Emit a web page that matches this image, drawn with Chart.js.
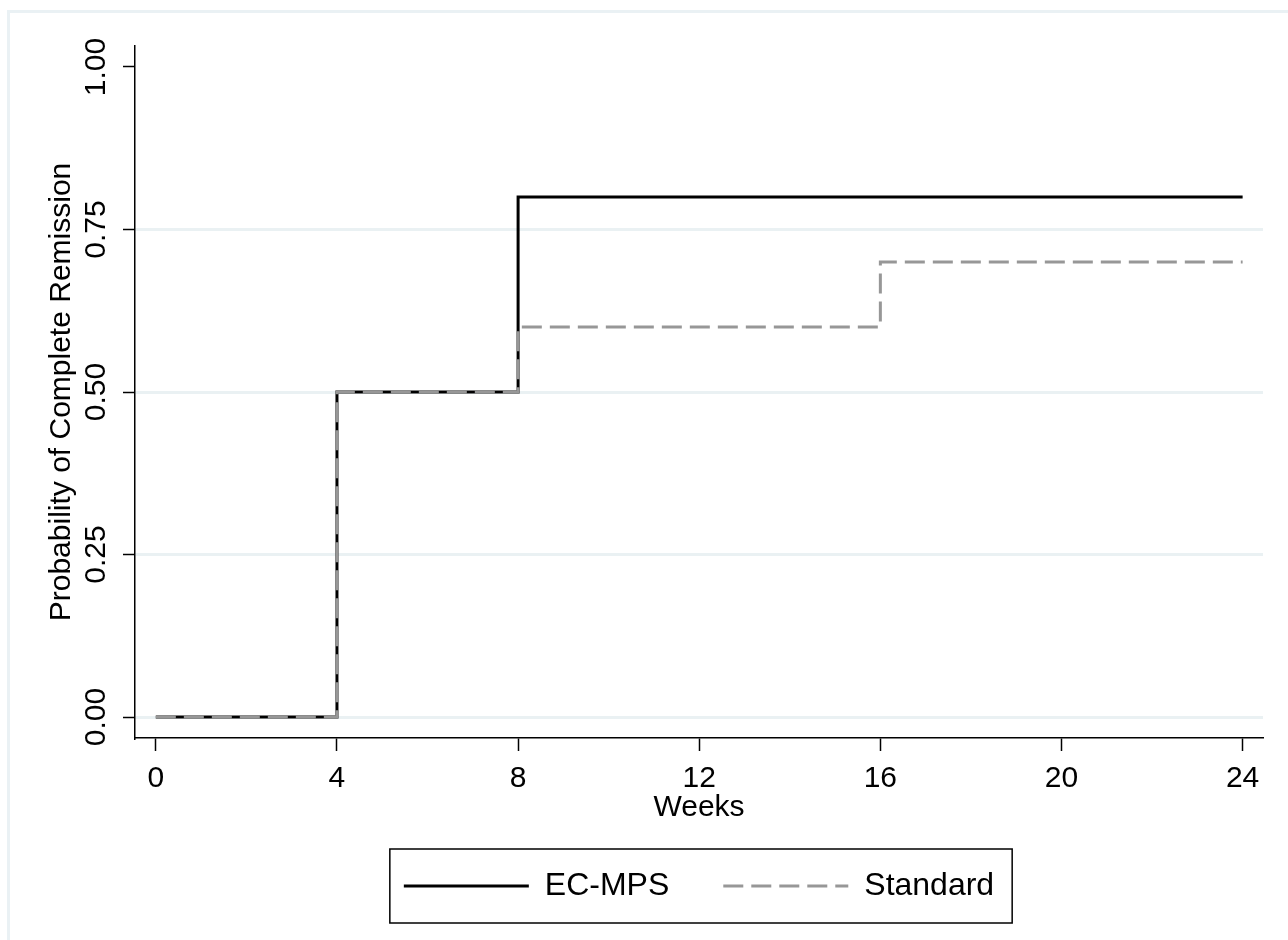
<!DOCTYPE html>
<html>
<head>
<meta charset="utf-8">
<script src="https://cdn.jsdelivr.net/npm/chart.js@4/dist/chart.umd.min.js"></script>
<style>
    html, body { margin: 0; padding: 0; background: #fff; }
    #wrap { position: relative; width: 1288px; height: 940px; overflow: hidden; }
    #frame { position: absolute; left: 7px; top: 10px; width: 1400px; height: 1000px;
             border-top: 3px solid #eaf1f4; border-left: 3px solid #eaf1f4; }
    canvas { position: absolute; left: 0; top: 0; }
</style>
</head>
<body>
<div id="wrap">
    <div id="frame"></div>
    <canvas id="chart" width="1288" height="940"></canvas>
</div>
<script>
var weeks = [0, 4, 8, 16, 24];
var ecMps = [0, 0.5, 0.8, 0.8, 0.8];
var standard = [0, 0.5, 0.6, 0.7, 0.7];
var xTicks = [0, 4, 8, 12, 16, 20, 24];
var yTicks = [0, 0.25, 0.5, 0.75, 1];

function toPoints(xs, ys) {
    return xs.map(function (x, i) { return {x: x, y: ys[i]}; });
}

var font = {family: 'Arial, "Liberation Sans", sans-serif', size: 30};
var legendFont = {family: 'Arial, "Liberation Sans", sans-serif', size: 32};

// box round the legend, like the Stata one
var legendBox = {
    id: 'legendBox',
    afterDraw: function (chart) {
        var boxes = chart.legend.legendHitBoxes;
        if (!boxes || !boxes.length) return;
        var left = boxes[0].left, right = 0, top = boxes[0].top, bottom = 0;
        boxes.forEach(function (b) {
            left = Math.min(left, b.left);
            right = Math.max(right, b.left + b.width);
            top = Math.min(top, b.top);
            bottom = Math.max(bottom, b.top + b.height);
        });
        var mid = (top + bottom) / 2;
        var ctx = chart.ctx;
        ctx.save();
        ctx.strokeStyle = '#000';
        ctx.lineWidth = 1.5;
        ctx.strokeRect(left - 14, mid - 37, right - left + 32, 74);
        ctx.restore();
    }
};

new Chart(document.getElementById('chart').getContext('2d'), {
    type: 'line',
    data: {
        datasets: [{
            label: 'EC-MPS',
            data: toPoints(weeks, ecMps),
            borderColor: '#000',
            borderWidth: 3,
            stepped: 'before',
            pointRadius: 0,
            fill: false,
            order: 2
        }, {
            label: 'Standard',
            data: toPoints(weeks, standard),
            borderColor: '#979797',
            borderWidth: 3,
            borderDash: [20, 8],
            stepped: 'before',
            pointRadius: 0,
            fill: false,
            order: 1
        }]
    },
    options: {
        responsive: false,
        animation: false,
        layout: {padding: {top: 46, left: 44, right: 25, bottom: 28}},
        plugins: {
            tooltip: {enabled: false},
            legend: {
                position: 'bottom',
                fullSize: false,
                labels: {
                    usePointStyle: true,
                    pointStyle: 'line',
                    pointStyleWidth: 125,
                    padding: 54,
                    color: '#000',
                    font: legendFont,
                    sort: function (a, b) { return a.datasetIndex - b.datasetIndex; },
                    generateLabels: function (chart) {
                        var items = Chart.defaults.plugins.legend.labels.generateLabels(chart);
                        items.forEach(function (item) {
                            var ds = chart.data.datasets[item.datasetIndex];
                            item.lineDash = ds.borderDash || [];
                            item.lineWidth = ds.borderWidth;
                            item.strokeStyle = ds.borderColor;
                            item.pointStyle = 'line';
                        });
                        return items;
                    }
                }
            }
        },
        scales: {
            x: {
                type: 'linear',
                min: -0.46,
                max: 24.45,
                afterBuildTicks: function (scale) {
                    scale.ticks = xTicks.map(function (v) { return {value: v}; });
                },
                border: {display: true, color: '#000', width: 1.5},
                grid: {drawOnChartArea: false, tickLength: 13, tickColor: '#000', tickWidth: 1.5},
                ticks: {color: '#000', font: font, padding: 10, maxRotation: 0},
                title: {display: true, text: 'Weeks', color: '#000', font: font, padding: {top: -17, bottom: -10}}
            },
            y: {
                min: -0.0323,
                max: 1.0323,
                afterBuildTicks: function (scale) {
                    scale.ticks = yTicks.map(function (v) { return {value: v}; });
                },
                afterFit: function (scale) {
                    scale.width = 91;
                },
                border: {display: true, color: '#000', width: 1.5},
                grid: {
                    color: function (c) { return c.tick && c.tick.value === 1 ? 'rgba(0,0,0,0)' : '#eaf1f3'; },
                    lineWidth: 3,
                    tickLength: 12,
                    tickColor: '#000',
                    tickWidth: 1.5
                },
                ticks: {
                    color: '#000',
                    font: font,
                    minRotation: 90,
                    maxRotation: 90,
                    crossAlign: 'center',
                    padding: -3,
                    callback: function (v) { return v.toFixed(2); }
                },
                title: {display: true, text: 'Probability of Complete Remission', color: '#000', font: font, padding: {top: 0, bottom: 0}}
            }
        }
    },
    plugins: [legendBox]
});
</script>
</body>
</html>
